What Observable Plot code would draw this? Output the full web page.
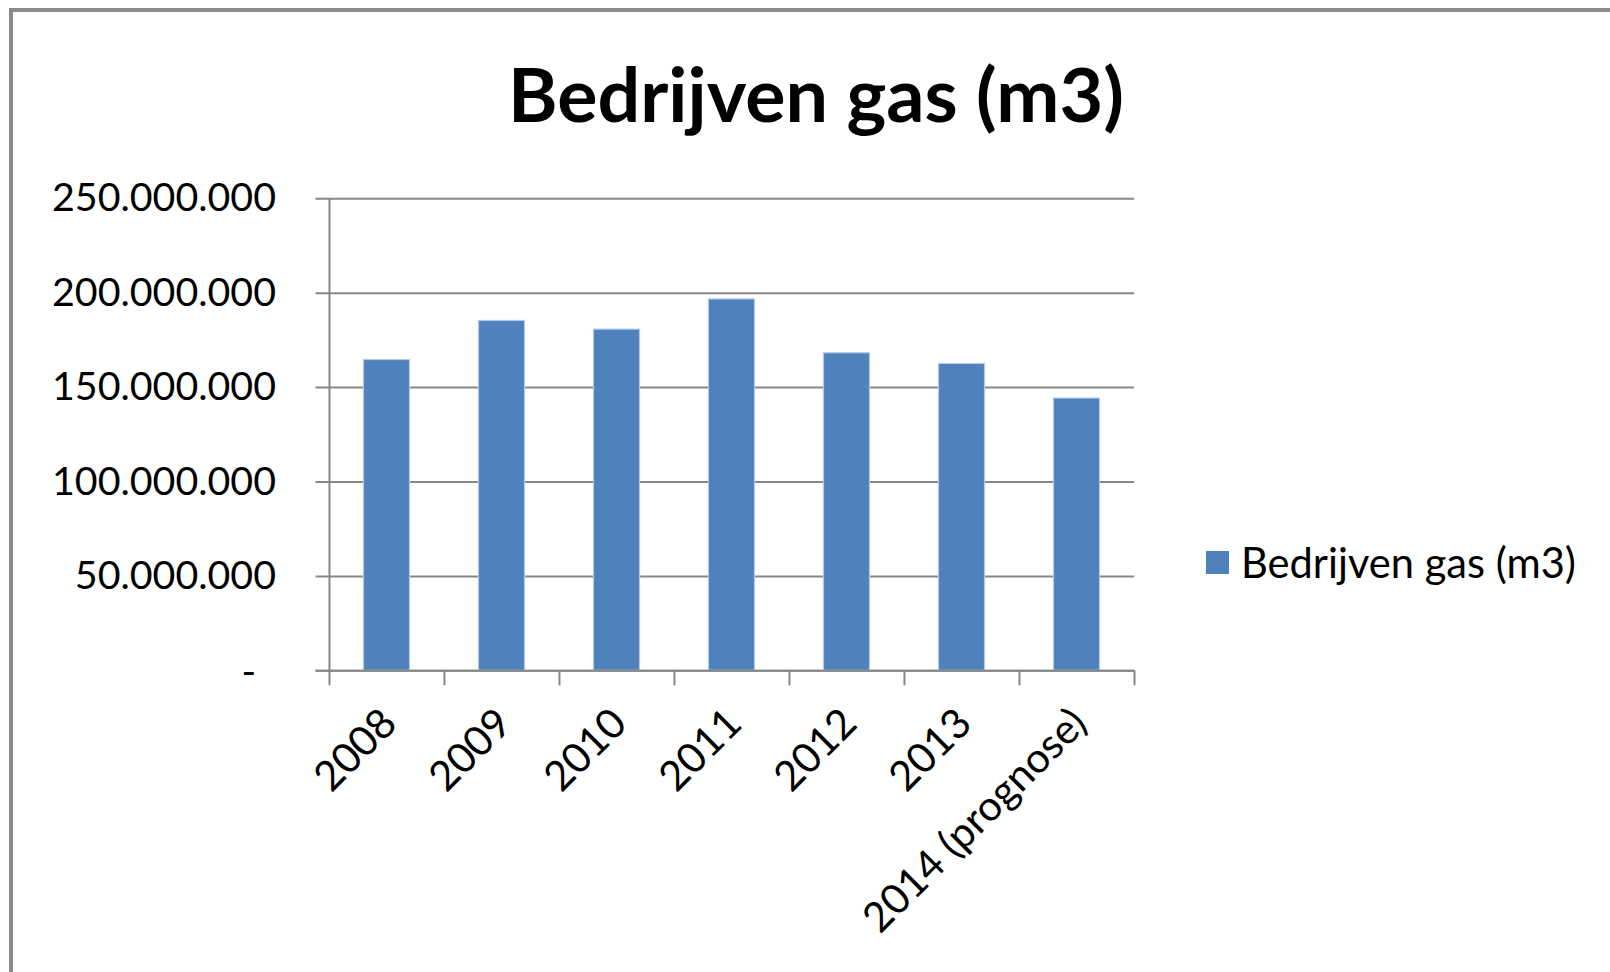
<!DOCTYPE html>
<html><head><meta charset="utf-8">
<script src="https://cdn.jsdelivr.net/npm/d3@7"></script>
<script src="https://cdn.jsdelivr.net/npm/@observablehq/plot@0.6"></script>
<style>
body{margin:0;background:#fff;}
#wrap{position:relative;width:1610px;height:972px;overflow:hidden;background:#fff;font-family:Lato,sans-serif;}
#frame{position:absolute;left:9px;top:8px;right:-20px;bottom:-20px;border-top:4px solid #8a8a8a;border-left:4px solid #8a8a8a;}
#chart{position:absolute;left:0;top:0;}
#title{position:absolute;left:0;width:1632px;text-align:center;font-weight:700;line-height:1;white-space:nowrap;color:#000;}
#legend{position:absolute;left:1206px;top:542px;display:flex;align-items:center;white-space:nowrap;color:#000;}
#legend .sw{width:23px;height:23px;background:#4f81bd;margin-right:12px;flex:none;}
#legend .lb{line-height:1;}
</style></head>
<body><div id="wrap"><div id="frame"></div><div id="chart"></div><div id="title"></div><div id="legend"><div class="sw"></div><div class="lb"></div></div></div>
<script>
// ---- data ----
const chartTitle = "Bedrijven gas (m3)";
const seriesName = "Bedrijven gas (m3)";
const years = ["2008", "2009", "2010", "2011", "2012", "2013", "2014 (prognose)"];
const values = [164600000, 185300000, 180700000, 196700000, 168200000, 162500000, 144200000];
const yTicks = [0, 50000000, 100000000, 150000000, 200000000, 250000000];

// ---- helpers ----
function fitSize(text, weight, target) {
  const c = document.createElement("canvas").getContext("2d");
  c.font = `${weight} 100px Lato`;
  return 100 * target / c.measureText(text).width;
}
const nl = d3.formatLocale({decimal: ",", thousands: ".", grouping: [3], currency: ["€", ""]});
const fmtNum = nl.format(",d");

const labelSize = fitSize("250.000.000", 400, 224);
const xLabelSize = labelSize * 1.05;
const titleSize = fitSize(chartTitle, 700, 616);
const legendSize = fitSize(seriesName, 400, 335);

const data = years.map((year, i) => ({year, value: values[i]}));

const W = 1610, H = 972, mL = 328.5, mR = 476, mT = 198.3, mB = 301.7;
const bw = (W - mL - mR) / years.length;
const grey = "#878787";

const plot = Plot.plot({
  width: W, height: H,
  marginLeft: mL, marginRight: mR, marginTop: mT, marginBottom: mB,
  style: {fontFamily: "Lato, sans-serif", fontSize: labelSize + "px", color: "#000", background: "transparent", overflow: "visible"},
  x: {domain: years, padding: 0, axis: null},
  y: {domain: [0, 250000000], axis: null},
  marks: [
    Plot.ruleY(yTicks, {stroke: grey, strokeWidth: 2, insetLeft: -13}),
    Plot.barY(data, {x: "year", y: "value", fill: "#4f81bd", stroke: "#b4c9e4", strokeWidth: 1.2, insetLeft: 34.5, insetRight: 34.5}),
    Plot.ruleY([0], {stroke: grey, strokeWidth: 2, insetLeft: -13}),
    Plot.ruleX([years[0]], {x: d => d, dx: -bw / 2, insetBottom: -15, stroke: grey, strokeWidth: 2}),
    Plot.ruleX(years.slice(1), {x: d => d, dx: -bw / 2, insetTop: H - mT - mB, insetBottom: -15, stroke: grey, strokeWidth: 2}),
    Plot.ruleX([years[years.length - 1]], {x: d => d, dx: bw / 2, insetTop: H - mT - mB, insetBottom: -15, stroke: grey, strokeWidth: 2}),
    Plot.text(yTicks.filter(d => d !== 0), {y: d => d, text: d => fmtNum(d), frameAnchor: "left", dx: -53, textAnchor: "end", fill: "#000"}),
    Plot.text(yTicks.filter(d => d === 0), {y: d => d, text: () => "-", frameAnchor: "left", dx: -73, dy: 2, textAnchor: "end", fill: "#000"}),
    Plot.text(years, {x: d => d, text: d => d, frameAnchor: "bottom", dx: 12, dy: 55, rotate: -45, textAnchor: "end", fill: "#000", fontSize: xLabelSize})
  ]
});
document.getElementById("chart").appendChild(plot);

const t = document.getElementById("title");
t.textContent = chartTitle;
t.style.fontSize = titleSize + "px";
t.style.top = (123 - 0.887 * titleSize) + "px";

const lg = document.querySelector("#legend .lb");
lg.textContent = seriesName;
lg.style.fontSize = legendSize + "px";
</script>
</body></html>
